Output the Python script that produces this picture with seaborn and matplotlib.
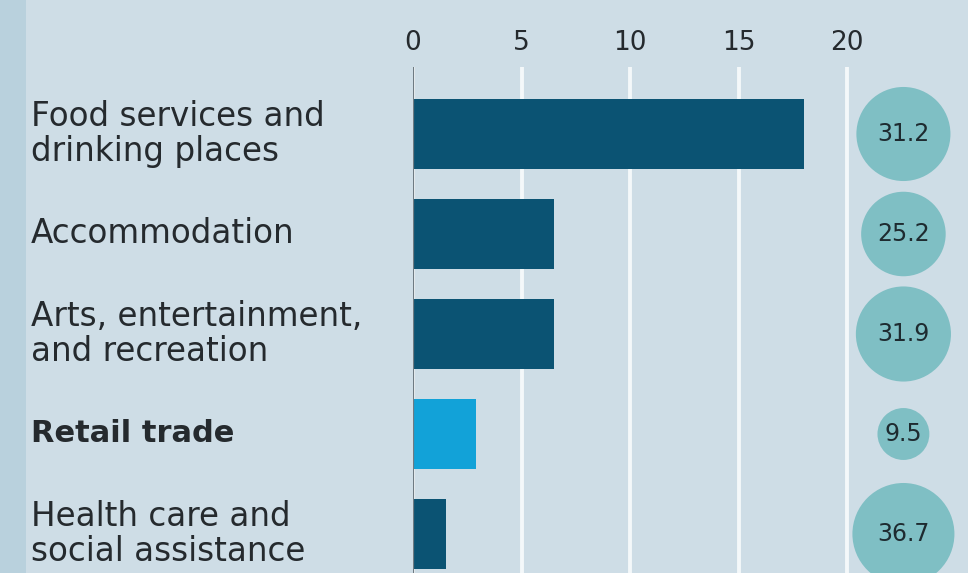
import matplotlib
matplotlib.use("Agg")
import matplotlib.pyplot as plt
import matplotlib.transforms as mtransforms
from matplotlib.patches import Rectangle
import seaborn as sns
import pandas as pd

categories = ["Food services and\ndrinking places", "Accommodation",
              "Arts, entertainment,\nand recreation", "Retail trade",
              "Health care and\nsocial assistance"]
bar_values = [18.0, 6.5, 6.5, 2.9, 1.5]
circle_values = [31.2, 25.2, 31.9, 9.5, 36.7]
circle_labels = ["31.2", "25.2", "31.9", "9.5", "36.7"]
bold_flags = [False, False, False, True, False]
bar_colors = ["#0b5373", "#0b5373", "#0b5373", "#12a2d8", "#0b5373"]
x_ticks = [0, 5, 10, 15, 20]

sns.set_theme(style="white")
plt.rcParams["font.family"] = ["DejaVu Sans"]

BG = "#cedde6"
fig = plt.figure(figsize=(9.68, 5.73), dpi=100, facecolor=BG)
fig.patches.append(Rectangle((0, 0), 26 / 968, 1, transform=fig.transFigure,
                             facecolor="#b9d1dd", edgecolor="none", zorder=0))
ax = fig.add_axes([413 / 968, 0, 1 - 413 / 968, 1 - 67 / 573])
ax.set_facecolor(BG)

df = pd.DataFrame({"category": categories, "value": bar_values})
sns.barplot(data=df, x="value", y="category", hue="category",
            palette=dict(zip(categories, bar_colors)), legend=False,
            width=0.7, ax=ax, saturation=1, zorder=3, linewidth=0)

ax.set_xlim(0, (968 - 413) / 21.7)
ax.set_ylim(4.39, -0.67)
ax.set_xticks(x_ticks)
ax.set_xticklabels([str(t) for t in x_ticks])
ax.xaxis.tick_top()
ax.tick_params(axis="x", length=0, pad=8, labelsize=19, labelcolor="#252a2e")
ax.set_yticks([])
ax.set_xlabel("")
ax.set_ylabel("")
for s in ax.spines.values():
    s.set_visible(False)
ax.grid(axis="x", color="#f4f8fa", lw=2.8, zorder=1)
ax.grid(axis="y", visible=False)
ax.set_axisbelow(True)
ax.axvline(0, color="#6e7a82", lw=1.6, zorder=4)

# circles
cx = 22.6
sizes = [v * 147 for v in circle_values]
ax.scatter([cx] * len(categories), list(range(len(categories))), s=sizes,
           color="#7fbfc4", edgecolor="none", zorder=3, clip_on=False)
for i, lab in enumerate(circle_labels):
    ax.text(cx, i, lab, ha="center", va="center", fontsize=17,
            color="#1e2b30", zorder=5)

# labels
trans = mtransforms.blended_transform_factory(fig.transFigure, ax.transData)
for i, (lab, b) in enumerate(zip(categories, bold_flags)):
    fig.text(31 / 968, i, lab, transform=trans, ha="left", va="center",
             fontsize=22 if b else 23.5, color="#252a2e", linespacing=1.1,
             fontweight="bold" if b else "normal")

fig.savefig("out.png", dpi=100, facecolor=BG)
